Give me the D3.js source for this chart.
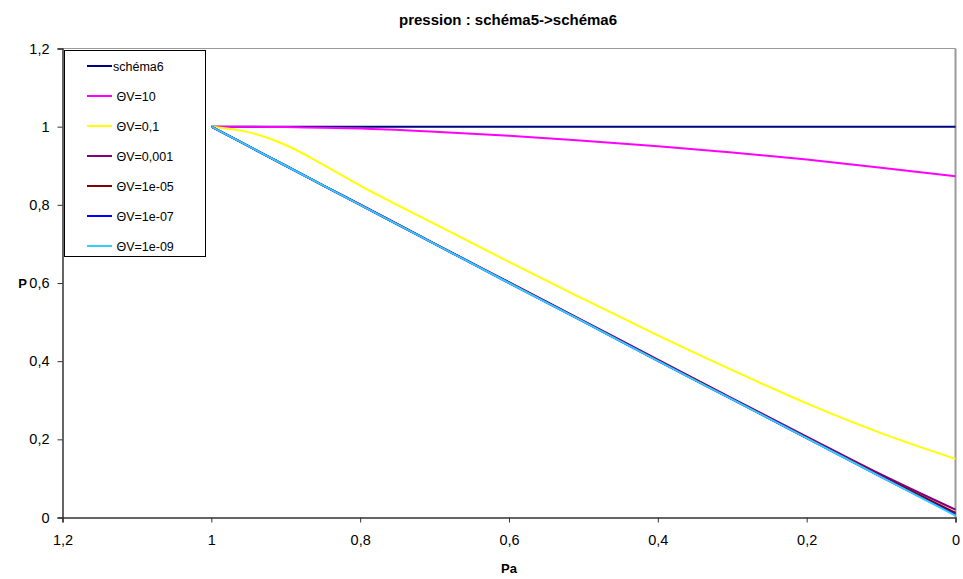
<!DOCTYPE html>
<html><head><meta charset="utf-8">
<script src="https://cdn.jsdelivr.net/npm/d3@7"></script>
<style>body{margin:0;background:#fff;} svg{display:block;font-family:"Liberation Sans",Arial,sans-serif;}</style>
</head><body><svg id="c" width="963" height="579"></svg>
<script>
const title = "pression : schéma5->schéma6";
const xTicks = [1.2, 1, 0.8, 0.6, 0.4, 0.2, 0];
const yTicks = [0, 0.2, 0.4, 0.6, 0.8, 1, 1.2];
const pa = [1, 0.95, 0.9, 0.85, 0.8, 0.7, 0.6, 0.5, 0.4, 0.3, 0.2, 0.1, 0];
const seriesNames = ["schéma6", " ΘV=10", " ΘV=0,1", " ΘV=0,001", " ΘV=1e-05", " ΘV=1e-07", " ΘV=1e-09"];
const seriesColors = ["#000080", "#FF00FF", "#FFFF00", "#800080", "#800000", "#0000FF", "#33CCFF"];
const sSchema6 = [1, 1, 1, 1, 1, 1, 1, 1, 1, 1, 1, 1, 1];
const sTheta10 = [1, 1, 0.999, 0.997, 0.995, 0.987, 0.977, 0.964, 0.950, 0.934, 0.916, 0.895, 0.873];
const sTheta01 = [1, 0.986, 0.953, 0.903, 0.849, 0.751, 0.654, 0.559, 0.466, 0.377, 0.292, 0.216, 0.15];
const sTheta1em3 = [1, 0.95, 0.9, 0.85, 0.801, 0.701, 0.602, 0.503, 0.404, 0.305, 0.207, 0.11, 0.02];
const sTheta1em5 = [1, 0.95, 0.9, 0.85, 0.8, 0.7, 0.601, 0.502, 0.402, 0.303, 0.204, 0.106, 0.012];
const sTheta1em7 = [1, 0.95, 0.9, 0.85, 0.8, 0.7, 0.6, 0.501, 0.401, 0.302, 0.203, 0.104, 0.007];
const sTheta1em9 = [1, 0.95, 0.9, 0.85, 0.8, 0.7, 0.6, 0.501, 0.401, 0.302, 0.203, 0.104, 0.005];
const allSeries = [sSchema6, sTheta10, sTheta01, sTheta1em3, sTheta1em5, sTheta1em7, sTheta1em9];

const svg = d3.select("#c");
const L = 62.5, R = 955.5, T = 48.5, B = 517.5;
const x = d3.scaleLinear().domain([1.2, 0]).range([L, R]);
const y = d3.scaleLinear().domain([0, 1.2]).range([B, T]);
const fmt = d => String(+d.toFixed(2)).replace(".", ",");

svg.append("text").attr("x", 508).attr("y", 25).attr("text-anchor", "middle")
  .attr("font-size", 15).attr("font-weight", "bold").text(title);

// plot frame (top/right grey)
svg.append("line").attr("x1", L).attr("x2", R).attr("y1", T).attr("y2", T).attr("stroke", "#9a9a9a").attr("stroke-width", 1);
svg.append("line").attr("x1", R).attr("x2", R).attr("y1", T).attr("y2", B).attr("stroke", "#9a9a9a").attr("stroke-width", 2);

const line = d3.line().x(d => x(d[0])).y(d => y(d[1])).curve(d3.curveMonotoneX);
const g = svg.append("g");
allSeries.forEach((s, i) => {
  g.append("path").datum(pa.map((p, j) => [p, s[j]]))
    .attr("d", line).attr("fill", "none").attr("stroke", seriesColors[i]).attr("stroke-width", 2);
});

// axes
const yAxis = d3.axisLeft(y).tickValues(yTicks).tickFormat(fmt).tickSize(5).tickPadding(8);
const xAxis = d3.axisBottom(x).tickValues(xTicks).tickFormat(fmt).tickSize(5).tickPadding(12);
const ya = svg.append("g").attr("transform", `translate(${L},0)`).call(yAxis);
const xa = svg.append("g").attr("transform", `translate(0,${B})`).call(xAxis);
[ya, xa].forEach(a => {
  a.select(".domain").attr("stroke", "#333").attr("stroke-width", 1.5);
  a.selectAll(".tick line").attr("stroke", "#333");
  a.selectAll(".tick text").attr("font-size", 14.5).attr("fill", "#000").attr("font-family", "Liberation Sans, Arial, sans-serif");
});

svg.append("text").attr("x", 27).attr("y", 288).attr("text-anchor", "end")
  .attr("font-size", 13).attr("font-weight", "bold").text("P");
svg.append("text").attr("x", 509).attr("y", 573).attr("text-anchor", "middle")
  .attr("font-size", 13).attr("font-weight", "bold").text("Pa");

// legend
const lg = svg.append("g");
lg.append("rect").attr("x", 64.5).attr("y", 50.5).attr("width", 141).attr("height", 206)
  .attr("fill", "#fff").attr("stroke", "#000").attr("stroke-width", 1);
seriesNames.forEach((n, i) => {
  const yy = 66 + i * 30;
  lg.append("line").attr("x1", 87).attr("x2", 112).attr("y1", yy).attr("y2", yy)
    .attr("stroke", seriesColors[i]).attr("stroke-width", 2);
  lg.append("text").attr("x", 113).attr("y", yy + 4.5).attr("font-size", 12.5)
    .attr("xml:space", "preserve").style("white-space", "pre").text(n);
});
</script></body></html>
